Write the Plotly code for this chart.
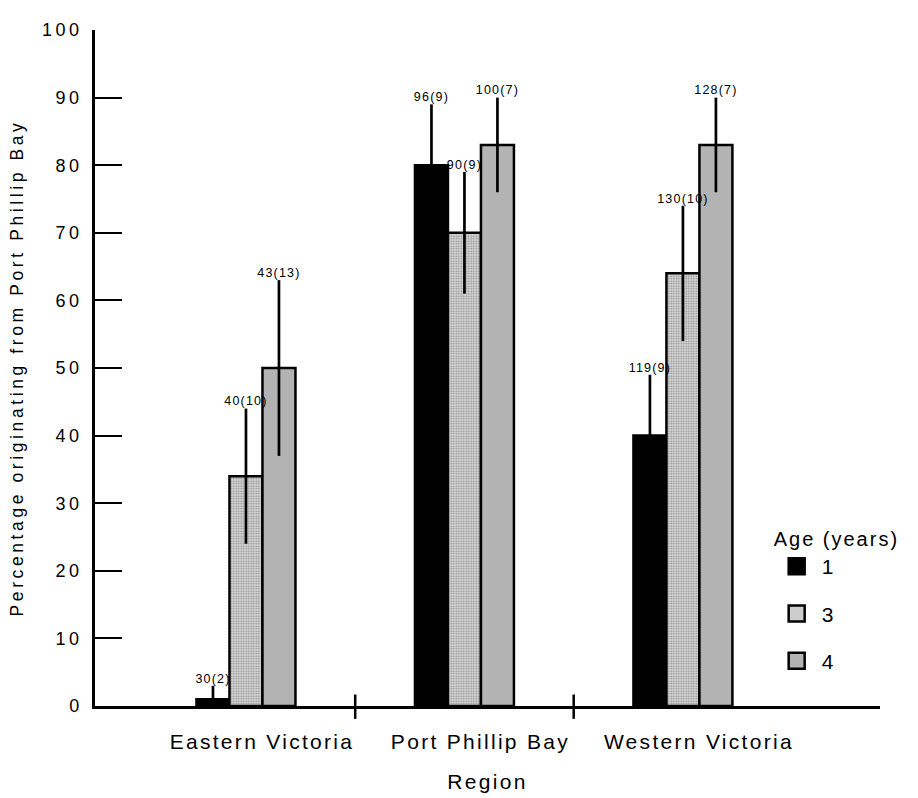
import plotly.graph_objects as go

# ---------------- data ----------------
regions = ["Eastern Victoria", "Port Phillip Bay", "Western Victoria"]
age_labels = ["1", "3", "4"]

pct_age1 = [1, 80, 40]
pct_age3 = [34, 70, 64]
pct_age4 = [50, 83, 83]

err_age1 = [2, 9, 9]
err_age3 = [10, 9, 10]
err_age4 = [13, 7, 7]

n_age1 = [30, 96, 119]
n_age3 = [40, 90, 130]
n_age4 = [43, 100, 128]

y_tick_vals = [0, 10, 20, 30, 40, 50, 60, 70, 80, 90, 100]

# ---------------- styling ----------------
FONT = "Liberation Sans, Arial, Helvetica, sans-serif"


def spaced(s, px):
    return f'<span style="letter-spacing:{px}px">{s}</span>'


series = [
    dict(name=age_labels[0], y=pct_age1, err=err_age1, n=n_age1,
         color="#000000", legend_color="#000000", pattern=None),
    dict(name=age_labels[1], y=pct_age3, err=err_age3, n=n_age3,
         color="#d6d6d6", legend_color="#cdcdcd",
         pattern=dict(shape=".", fgcolor="#8c8c8c", bgcolor="#dadada",
                      size=2.5, solidity=0.4, fillmode="replace")),
    dict(name=age_labels[2], y=pct_age4, err=err_age4, n=n_age4,
         color="#b3b3b3", legend_color="#b3b3b3", pattern=None),
]

fig = go.Figure()

# bars with error bars
for s in series:
    marker = dict(color=s["color"], line=dict(color="#000000", width=2.5))
    if s["pattern"] is not None:
        marker["pattern"] = s["pattern"]
    fig.add_trace(go.Bar(
        x=regions, y=s["y"], name=s["name"],
        marker=marker, offsetgroup=s["name"], showlegend=False,
        error_y=dict(type="data", array=s["err"], symmetric=True,
                     color="#000000", thickness=2.7, width=0),
        hoverinfo="skip",
    ))

# n(SE) labels above the error bars
for s in series:
    tops = [v + e for v, e in zip(s["y"], s["err"])]
    labels = [spaced(f"{n}({e})", 1.2) for n, e in zip(s["n"], s["err"])]
    fig.add_trace(go.Scatter(
        x=regions, y=tops, mode="text", text=labels,
        textposition="top center",
        textfont=dict(family=FONT, size=12.5, color="#000000"),
        offsetgroup=s["name"], showlegend=False, hoverinfo="skip",
        cliponaxis=False,
    ))

# legend entries (large square swatches)
for s in series:
    fig.add_trace(go.Scatter(
        x=[None], y=[None], mode="markers", name=spaced(s["name"], 2),
        marker=dict(symbol="square", size=16, color=s["legend_color"],
                    line=dict(color="#000000", width=2.5)),
        offsetgroup=s["name"], legendgroup=s["name"], showlegend=True,
        hoverinfo="skip",
    ))

fig.update_layout(
    width=918, height=798,
    margin=dict(l=95, r=38, t=30, b=92),
    paper_bgcolor="#ffffff", plot_bgcolor="#ffffff",
    font=dict(family=FONT, color="#000000", size=18),
    barmode="group", bargap=0.547, bargroupgap=0.0,
    scattermode="group",
    showlegend=True,
    legend=dict(
        x=0.862, xanchor="left", y=0.275, yanchor="top",
        bgcolor="rgba(0,0,0,0)", borderwidth=0,
        font=dict(family=FONT, size=21, color="#000000"),
        title=dict(text=spaced("Age (years)", 2), side="top",
                   font=dict(family=FONT, size=20)),
        tracegroupgap=17, itemwidth=40, itemsizing="trace",
        traceorder="grouped",
    ),
)

fig.update_xaxes(
    type="category", range=[-0.691, 2.902], automargin=False,
    tickvals=regions, ticktext=[spaced(r, 2.3) for r in regions],
    showline=True, linecolor="#000000", linewidth=2.5,
    ticks="", showgrid=False, zeroline=False,
    tickfont=dict(family=FONT, size=21),
    ticklabelstandoff=15, ticklabelshift=16,
    title=dict(text=spaced("Region", 2.3), font=dict(family=FONT, size=21),
               standoff=23),
)

fig.update_yaxes(
    range=[0, 100], tickvals=y_tick_vals, automargin=False,
    ticktext=[spaced(str(v), 3.5) for v in y_tick_vals],
    showline=True, linecolor="#000000", linewidth=2.5,
    ticks="inside", ticklen=27, tickwidth=2, tickcolor="#000000",
    showgrid=False, zeroline=False,
    tickfont=dict(family=FONT, size=18),
    ticklabelstandoff=6,
    title=dict(text=spaced("Percentage originating from Port Phillip Bay", 3.6),
               font=dict(family=FONT, size=17.5), standoff=14),
)

# category separators on the x axis
for b in [0.5, 1.5]:
    fig.add_shape(type="line", xref="x", yref="paper", x0=b, x1=b,
                  y0=-0.019, y1=0.017, line=dict(color="#000000", width=2.5))

fig.write_html("out.html")
